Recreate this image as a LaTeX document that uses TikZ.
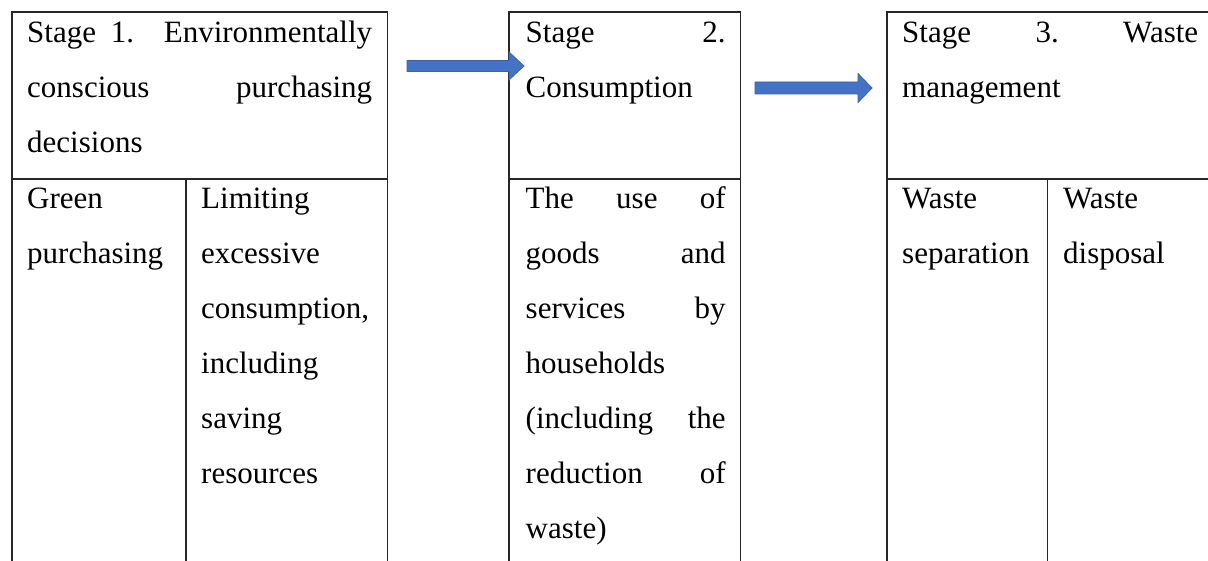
\documentclass[tikz,border=0pt]{standalone}
\usepackage{fontspec}
\setmainfont{Liberation Serif}
\newcommand{\firststrut}{\rule{0pt}{30pt}}
\newcommand{\jline}[2]{\makebox[#1][l]{#2}}
\definecolor{arrowfill}{HTML}{4472C4}
\definecolor{arrowedge}{HTML}{3A62AC}
\begin{document}
\begin{tikzpicture}[x=1pt,y=-1pt,
  gridline/.style={draw=black!85,line width=1.5pt},
  celltext/.style={anchor=north west,inner sep=0pt,align=left,
    font=\fontsize{31}{55}\selectfont},
  blockarrow/.style={fill=arrowfill,draw=arrowedge,line width=0.8pt,line join=miter}]
\useasboundingbox (0,0) rectangle (1208,561);
% table lines
\draw[gridline] (12,561) -- (12,12) -- (387.5,12) -- (387.5,561);
\draw[gridline] (12,179) -- (387.5,179);
\draw[gridline] (186,179) -- (186,561);
\draw[gridline] (509,561) -- (509,12) -- (740.5,12) -- (740.5,561);
\draw[gridline] (509,179) -- (740.5,179);
\draw[gridline] (887,561) -- (887,12) -- (1208,12);
\draw[gridline] (887,179) -- (1208,179);
\draw[gridline] (1047.5,179) -- (1047.5,561);
% texts
\node[celltext,text width=345pt] (s1h) at (27,12)
  {\firststrut\jline{345pt}{Stage\hfill 1.\hfill\hfill Environmentally}\\
   \jline{345pt}{conscious\hfill purchasing}\\
   decisions};
\node[celltext,text width=150pt] (s1a) at (27,178)
  {\firststrut Green\\purchasing};
\node[celltext,text width=172pt] (s1b) at (201,178)
  {\firststrut Limiting\\excessive\\consumption,\\including\\saving\\resources};
\node[celltext,text width=200pt] (s2h) at (525.5,12)
  {\firststrut\jline{200pt}{Stage\hfill 2.}\\Consumption};
\node[celltext,text width=200pt] (s2b) at (525.5,178)
  {\firststrut\jline{200pt}{The\hfill use\hfill of}\\
   \jline{200pt}{goods\hfill and}\\
   \jline{200pt}{services\hfill by}\\
   households\\
   \jline{200pt}{(including\hfill the}\\
   \jline{200pt}{reduction\hfill of}\\
   waste)};
\node[celltext,text width=296pt] (s3h) at (902,12)
  {\firststrut\jline{296pt}{Stage\hfill 3.\hfill Waste}\\management};
\node[celltext,text width=140pt] (s3a) at (902,178)
  {\firststrut Waste\\separation};
\node[celltext,text width=140pt] (s3b) at (1063,178)
  {\firststrut Waste\\disposal};
% block arrows
\draw[blockarrow] (407,60.5) -- (509,60.5) -- (509,52) -- (524,66) -- (509,80)
  -- (509,71.5) -- (407,71.5) -- cycle;
\draw[blockarrow] (755,82) -- (858,82) -- (858,73.5) -- (872,88) -- (858,102.5)
  -- (858,94) -- (755,94) -- cycle;
\end{tikzpicture}
\end{document}
